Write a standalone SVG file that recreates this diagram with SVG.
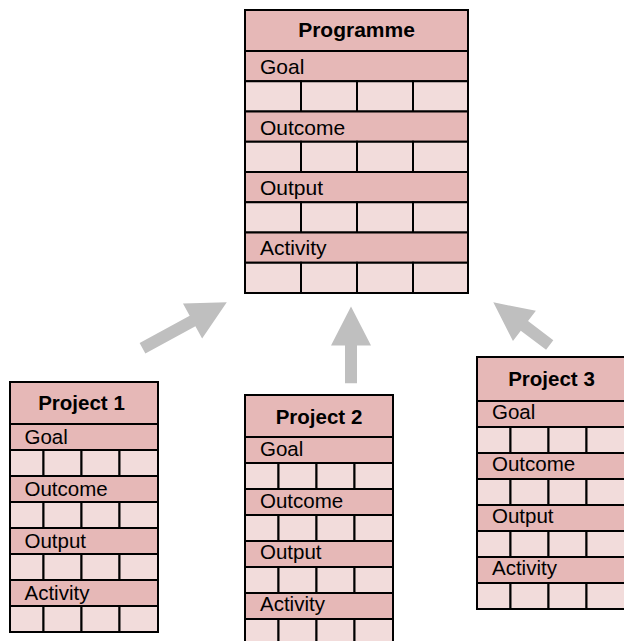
<svg xmlns="http://www.w3.org/2000/svg" xmlns:xlink="http://www.w3.org/1999/xlink" width="624" height="641" viewBox="0 0 624 641">
<style>
.hd{fill:#E6B8B7;stroke:#000;stroke-width:2}
.cl{fill:#F2DCDB;stroke:#000;stroke-width:2}
.h{font-family:"Liberation Sans",Arial,sans-serif;font-size:20.5px;font-weight:bold;fill:#000}
.hp{font-size:21px}
.l{font-family:"Liberation Sans",Arial,sans-serif;font-size:20.5px;fill:#000}
.lp{font-size:21px}
.ar{fill:#BFBFBF}
</style>
<defs>
<g id="pcells">
<rect class="cl" x="0" y="0" width="56" height="30.25"/>
<rect class="cl" x="56" y="0" width="56" height="30.25"/>
<rect class="cl" x="112" y="0" width="56" height="30.25"/>
<rect class="cl" x="168" y="0" width="55" height="30.25"/>
</g>
<g id="jcells">
<rect class="cl" x="0" y="0" width="33.5" height="26"/>
<rect class="cl" x="33.5" y="0" width="38" height="26"/>
<rect class="cl" x="71.5" y="0" width="38" height="26"/>
<rect class="cl" x="109.5" y="0" width="38.5" height="26"/>
</g>
</defs>

<g id="connectors">
<polygon class="ar" transform="translate(142.5,348.3) rotate(-28.6)" points="0,-6 57,-6 57,-20 96,0 57,20 57,6 0,6"/>
<polygon class="ar" transform="translate(351,383.3) rotate(-90)" points="0,-6 37.7,-6 37.7,-20 76.7,0 37.7,20 37.7,6 0,6"/>
<polygon class="ar" transform="translate(549.7,345) rotate(-142.9)" points="0,-6 31.7,-6 31.7,-19 70.7,0 31.7,19 31.7,6 0,6"/>
</g>

<g id="programme">
<rect class="hd" x="245" y="10" width="223" height="41"/>
<text class="h hp" x="356.5" y="37" text-anchor="middle">Programme</text>
<rect class="hd" x="245" y="51" width="223" height="30.25"/>
<text class="l lp" x="260" y="73.5">Goal</text>
<use xlink:href="#pcells" x="245" y="81.25"/>
<rect class="hd" x="245" y="111.5" width="223" height="30.25"/>
<text class="l lp" x="260" y="134.5">Outcome</text>
<use xlink:href="#pcells" x="245" y="141.75"/>
<rect class="hd" x="245" y="172" width="223" height="30.25"/>
<text class="l lp" x="260" y="195">Output</text>
<use xlink:href="#pcells" x="245" y="202.25"/>
<rect class="hd" x="245" y="232.5" width="223" height="30.25"/>
<text class="l lp" x="260" y="254.5">Activity</text>
<use xlink:href="#pcells" x="245" y="262.75"/>
</g>

<g id="project1">
<rect class="hd" x="10" y="382" width="148" height="42"/>
<text class="h" x="81.5" y="410" text-anchor="middle">Project 1</text>
<rect class="hd" x="10" y="424" width="148" height="26"/>
<text class="l" x="24.5" y="444">Goal</text>
<use xlink:href="#jcells" x="10" y="450"/>
<rect class="hd" x="10" y="476" width="148" height="26"/>
<text class="l" x="24.5" y="496">Outcome</text>
<use xlink:href="#jcells" x="10" y="502"/>
<rect class="hd" x="10" y="528" width="148" height="26"/>
<text class="l" x="24.5" y="548.3">Output</text>
<use xlink:href="#jcells" x="10" y="554"/>
<rect class="hd" x="10" y="580" width="148" height="26"/>
<text class="l" x="24.5" y="600">Activity</text>
<use xlink:href="#jcells" x="10" y="606"/>
</g>

<g id="project2">
<rect class="hd" x="245" y="395" width="148" height="42"/>
<text class="h" x="319" y="423.5" text-anchor="middle">Project 2</text>
<rect class="hd" x="245" y="437" width="148" height="26"/>
<text class="l" x="260" y="456">Goal</text>
<use xlink:href="#jcells" x="245" y="463"/>
<rect class="hd" x="245" y="489" width="148" height="26"/>
<text class="l" x="260" y="507.5">Outcome</text>
<use xlink:href="#jcells" x="245" y="515"/>
<rect class="hd" x="245" y="541" width="148" height="26"/>
<text class="l" x="260" y="559">Output</text>
<use xlink:href="#jcells" x="245" y="567"/>
<rect class="hd" x="245" y="593" width="148" height="26"/>
<text class="l" x="260" y="611">Activity</text>
<use xlink:href="#jcells" x="245" y="619"/>
</g>

<g id="project3">
<rect class="hd" x="477" y="357" width="148" height="44"/>
<text class="h" x="551.5" y="385.5" text-anchor="middle">Project 3</text>
<rect class="hd" x="477" y="401" width="148" height="26"/>
<text class="l" x="492" y="419">Goal</text>
<use xlink:href="#jcells" x="477" y="427"/>
<rect class="hd" x="477" y="453" width="148" height="26"/>
<text class="l" x="492" y="471">Outcome</text>
<use xlink:href="#jcells" x="477" y="479"/>
<rect class="hd" x="477" y="505" width="148" height="26"/>
<text class="l" x="492" y="522.5">Output</text>
<use xlink:href="#jcells" x="477" y="531"/>
<rect class="hd" x="477" y="557" width="148" height="26"/>
<text class="l" x="492" y="574.5">Activity</text>
<use xlink:href="#jcells" x="477" y="583"/>
</g>
</svg>
